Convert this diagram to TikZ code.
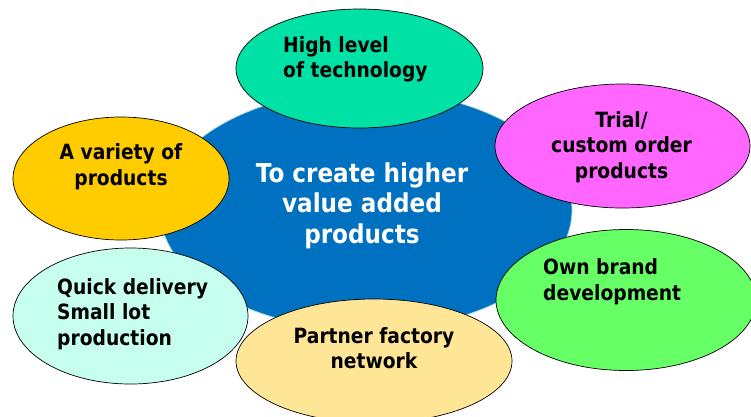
\documentclass[tikz,border=0pt]{standalone}
\usepackage{fontspec}
\setmainfont{DejaVu Sans}[FakeStretch=0.89]
\usetikzlibrary{shapes.geometric}
\definecolor{cblue}{HTML}{0070C0}
\definecolor{cteal}{HTML}{00E1A5}
\definecolor{cmag}{HTML}{FF66FF}
\definecolor{cgreen}{HTML}{66FF66}
\definecolor{cyel}{HTML}{FFE697}
\definecolor{ccyan}{HTML}{C6FFEE}
\definecolor{cgold}{HTML}{FFCC00}
\definecolor{chalo}{HTML}{A8DCD8}
\begin{document}
\begin{tikzpicture}[x=1pt,y=-1pt,
  blob/.style={ellipse, draw=black, line width=0.7pt, inner sep=0pt},
  lbl/.style={font=\fontsize{21}{25.5}\selectfont\bfseries, inner sep=0pt, text=black}]
\useasboundingbox[fill=white] (0,0) rectangle (751,416);
% central
\node[ellipse, fill=cblue, draw=chalo, line width=0.8pt, inner sep=0pt,
  minimum width=412pt, minimum height=240pt] (core) at (366,210) {};
% satellites
\node[blob, fill=cteal, minimum width=247pt, minimum height=119pt] (tech) at (359.5,68.5) {};
\node[blob, fill=cmag, minimum width=255pt, minimum height=124pt] (trial) at (622.5,146) {};
\node[blob, fill=cgreen, minimum width=260pt, minimum height=141pt] (brand) at (626,300) {};
\node[blob, fill=ccyan, minimum width=235pt, minimum height=136pt] (quick) at (130.5,316) {};
\node[blob, fill=cyel, minimum width=276pt, minimum height=124pt] (partner) at (374,361) {};
\node[blob, fill=cgold, minimum width=216pt, minimum height=123pt] (variety) at (121,178.5) {};
% texts (anchor base = baseline of the last line)
\node[font=\fontsize{26}{30.5}\selectfont\bfseries, text=white, inner sep=0pt,
  align=center, anchor=base] (coretxt) at (362,243) {To create higher\\value added\\products};
\node[lbl, align=left, anchor=base west] (techtxt) at (283,77.7) {High level\\of technology};
\node[lbl, align=center, anchor=base] (trialtxt) at (621.5,178) {Trial/\\custom order\\products};
\node[lbl, align=left, anchor=base west] (brandtxt) at (543,300) {Own brand\\development};
\node[lbl, align=center, anchor=base] (partnertxt) at (374,368.5) {Partner factory\\network};
\node[lbl, align=left, anchor=base west] (quicktxt) at (57,345) {Quick delivery\\Small lot\\production};
\node[lbl, align=center, anchor=base] (varietytxt) at (121,185) {A variety of\\products};
\end{tikzpicture}
\end{document}
